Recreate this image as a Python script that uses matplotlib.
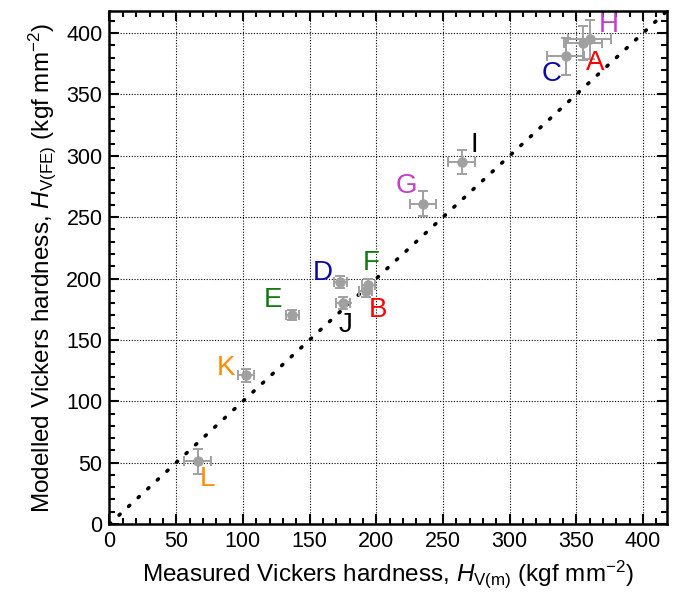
import matplotlib
matplotlib.use("Agg")
import matplotlib.pyplot as plt
from matplotlib.ticker import MultipleLocator

plt.rcParams['font.family'] = ['Liberation Sans', 'DejaVu Sans']
plt.rcParams['mathtext.fontset'] = 'custom'
plt.rcParams['mathtext.rm'] = 'Liberation Sans'
plt.rcParams['mathtext.it'] = 'Liberation Sans:italic'
plt.rcParams['mathtext.bf'] = 'Liberation Sans:bold'

labels = ['A', 'B', 'C', 'D', 'E', 'F', 'G', 'H', 'I', 'J', 'K', 'L']
measured = [355, 192, 342, 173, 137, 194, 235, 360, 264, 175, 102, 66]
modelled = [392, 190, 381, 197, 170, 195, 261, 395, 295, 180, 121, 51]
xerr = [14, 5, 14, 5, 5, 5, 10, 16, 10, 5, 6, 10]
yerr = [14, 5, 15, 5, 4, 5, 10, 16, 10, 5, 5, 10]
label_colors = ['#ff0000', '#ff0000', '#0a0aa8', '#0a0aa8', '#117a11', '#117a11',
                '#c23fc9', '#c23fc9', '#000000', '#000000', '#ff8c00', '#ff8c00']
label_offsets = [(12, -20), (12, -19), (-14, -18), (-17, 9), (-19, 15), (3, 22),
                 (-16, 18), (19, 14), (13, 17), (3, -22), (-20, 7), (10, -18)]
limits = [0, 418]

fig = plt.figure(figsize=(6.78, 6.09), dpi=100)
ax = fig.add_axes([0.1615, 0.1396, 0.8223, 0.8424])

ax.plot(limits, limits, color='black', linestyle=(0, (0.4, 3.2)), linewidth=2.6,
        dash_capstyle='round', zorder=2)

for i in range(len(labels)):
    ax.errorbar(measured[i], modelled[i], xerr=xerr[i], yerr=yerr[i], fmt='o',
                color='#a0a0a0', ecolor='#a0a0a0', markersize=6.5, elinewidth=1.4,
                capsize=3.5, capthick=1.4, zorder=3)
    ax.annotate(labels[i], (measured[i], modelled[i]), xytext=label_offsets[i],
                textcoords='offset pixels', ha='center', va='center',
                fontsize=20, color=label_colors[i], zorder=4)

ax.set_xlim(limits)
ax.set_ylim(limits)
ax.xaxis.set_major_locator(MultipleLocator(50))
ax.yaxis.set_major_locator(MultipleLocator(50))
ax.xaxis.set_minor_locator(MultipleLocator(10))
ax.yaxis.set_minor_locator(MultipleLocator(10))
ax.tick_params(which='both', direction='in', top=True, right=True, width=1.5)
ax.tick_params(which='major', length=7, labelsize=15.5, pad=5)
ax.tick_params(which='minor', length=4)
for s in ax.spines.values():
    s.set_linewidth(1.8)
ax.grid(True, which='major', color='black', linestyle=(0, (1, 1.5)), linewidth=0.8)
ax.set_axisbelow(True)

ax.set_xlabel(r'Measured Vickers hardness, $\mathit{H}_{\mathrm{V(m)}}$ (kgf mm$^{-2}$)',
              fontsize=17.5, labelpad=5)
ax.set_ylabel(r'Modelled Vickers hardness, $\mathit{H}_{\mathrm{V(FE)}}$ (kgf mm$^{-2}$)',
              fontsize=17.5, labelpad=6)

fig.savefig('out.png', dpi=100)
